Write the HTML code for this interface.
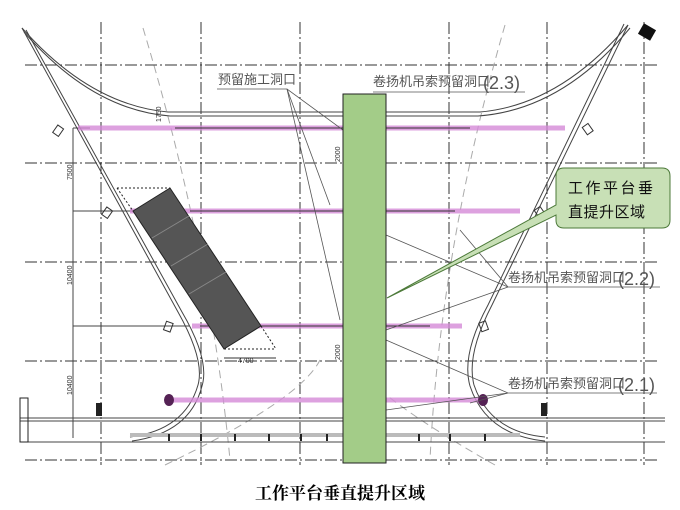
<!DOCTYPE html>
<html><head><meta charset="utf-8"><style>
html,body{margin:0;padding:0;background:#fff;width:680px;height:510px;overflow:hidden}
svg{display:block}
</style></head><body>
<svg width="680" height="510" viewBox="0 0 680 510" xmlns="http://www.w3.org/2000/svg" font-family="Liberation Sans, Noto Sans CJK SC, sans-serif">
<!-- grid dash-dot -->
<g stroke="#333" stroke-width="1" stroke-dasharray="12,3,2,3" fill="none">
<line x1="101" y1="22" x2="101" y2="465"/>
<line x1="201" y1="22" x2="201" y2="465"/>
<line x1="300" y1="22" x2="300" y2="465"/>
<line x1="449" y1="22" x2="449" y2="465"/>
<line x1="547" y1="22" x2="547" y2="465"/>
<line x1="644" y1="22" x2="644" y2="465"/>
<line x1="25" y1="65" x2="660" y2="65"/>
<line x1="25" y1="163" x2="660" y2="163"/>
<line x1="25" y1="262" x2="660" y2="262"/>
<line x1="25" y1="361" x2="660" y2="361"/>
<line x1="25" y1="460" x2="660" y2="460"/>
</g>
<!-- faint dashed curves -->
<g stroke="#aaa" stroke-width="1" stroke-dasharray="8,5" fill="none">
<path d="M143 28 Q210 250 230 460"/>
<path d="M505 25 Q440 250 430 460"/>
<path d="M165 465 Q300 400 320 360"/>
<path d="M495 465 Q380 400 350 360"/>
</g>
<!-- main outline -->
<g stroke="#444" stroke-width="1" fill="none">
<path d="M22 28 Q90 105 168 112 L480 112 Q560 105 628 25"/>
<path d="M24 32 Q92 110 170 116 L478 116 Q562 110 630 28"/>
<path d="M22 28 L178 312 Q205 360 198 385 Q185 430 130 437"/>
<path d="M26 30 L182 312 Q210 360 202 386 Q190 433 132 441"/>
<path d="M628 25 L492 305 Q466 355 474 385 Q490 432 545 437"/>
<path d="M624 24 L488 305 Q461 355 470 386 Q486 435 545 441"/>
<line x1="20" y1="418" x2="665" y2="418"/>
<line x1="20" y1="421" x2="665" y2="421"/>
<line x1="20" y1="442" x2="665" y2="442"/>
<line x1="73" y1="128" x2="73" y2="438"/>
<line x1="73" y1="128" x2="90" y2="128"/>
<line x1="73" y1="211" x2="135" y2="211"/>
<line x1="73" y1="326" x2="190" y2="326"/>
</g>
<rect x="130" y="433" width="390" height="4" fill="#bbb"/>
<rect x="20" y="398" width="8" height="44" fill="none" stroke="#222"/>
<rect x="96" y="403" width="6" height="13" fill="#222"/>
<rect x="541" y="403" width="6" height="13" fill="#222"/>
<g fill="#222"><rect x="168" y="434" width="2" height="7"/><rect x="200" y="434" width="2" height="7"/><rect x="234" y="434" width="2" height="7"/><rect x="268" y="434" width="2" height="7"/><rect x="300" y="434" width="2" height="7"/><rect x="326" y="434" width="2" height="7"/><rect x="418" y="434" width="2" height="7"/><rect x="449" y="434" width="2" height="7"/><rect x="484" y="434" width="2" height="7"/></g>
<!-- purple beams -->
<g stroke="#d58ad8" stroke-width="5" opacity="0.8">
<line x1="78" y1="128" x2="565" y2="128"/>
<line x1="130" y1="211" x2="520" y2="211"/>
<line x1="192" y1="326" x2="462" y2="326"/>
<line x1="168" y1="400" x2="482" y2="400"/>
</g>
<g stroke="#333" stroke-width="1">
<line x1="175" y1="128" x2="470" y2="128"/>
<line x1="190" y1="211" x2="455" y2="211"/>
<line x1="200" y1="326" x2="430" y2="326"/>
</g>
<g fill="none" stroke="#333">
<rect x="55" y="126" width="7" height="9" transform="rotate(35 58 130)"/>
<rect x="104" y="208" width="7" height="9" transform="rotate(35 107 212)"/>
<rect x="165" y="322" width="7" height="9" transform="rotate(20 168 326)"/>
<rect x="584" y="125" width="7" height="9" transform="rotate(-35 587 129)"/>
<rect x="536" y="208" width="7" height="9" transform="rotate(-35 539 212)"/>
<rect x="480" y="322" width="7" height="9" transform="rotate(-20 483 326)"/>
</g>
<ellipse cx="169" cy="400" rx="5" ry="6" fill="#552255"/>
<ellipse cx="483" cy="400" rx="5" ry="6" fill="#552255"/>
<rect x="640" y="26" width="14" height="12" fill="#111" transform="rotate(30 647 32)"/>
<!-- rotated dark panel -->
<polygon points="133,211 170,188 261,326 224,349" fill="#555" stroke="#222"/>
<g stroke="#888"><line x1="152" y1="238" x2="189" y2="216"/><line x1="171" y1="266" x2="208" y2="244"/><line x1="189" y1="294" x2="226" y2="272"/></g>
<g stroke="#222" stroke-dasharray="2,2" fill="none"><line x1="117" y1="188" x2="170" y2="188"/><line x1="117" y1="188" x2="133" y2="211"/><line x1="224" y1="349" x2="276" y2="349"/><line x1="261" y1="326" x2="276" y2="349"/></g>
<line x1="224" y1="358" x2="276" y2="358" stroke="#333"/>
<!-- leader lines -->
<g stroke="#555" stroke-width="0.8" fill="none">
<polyline points="217,89 287,89 343,130"/><line x1="287" y1="89" x2="330" y2="205"/><line x1="287" y1="89" x2="340" y2="320"/>
<line x1="373" y1="92" x2="525" y2="92"/>
<polyline points="660,287 508,287 386,235"/><line x1="508" y1="287" x2="386" y2="330"/><line x1="508" y1="287" x2="460" y2="230"/>
<polyline points="657,393 508,393 386,340"/><line x1="508" y1="393" x2="386" y2="410"/><line x1="508" y1="393" x2="470" y2="403"/>
</g>
<!-- green column -->
<rect x="343" y="94" width="43" height="369" fill="#a3cc88" stroke="#222" stroke-width="1"/>
<!-- callout -->
<path d="M564 168 H662 Q670 168 670 176 V220 Q670 228 662 228 H564 Q556 228 556 220 V215 L387 298 L556 205 V176 Q556 168 564 168 Z" fill="#c8e0b6" stroke="#4d7a3a" stroke-width="1"/>
<text x="568" y="193" font-size="15" letter-spacing="2.5" fill="#111">工作平台垂</text>
<text x="568" y="217" font-size="15" letter-spacing="0.5" fill="#111">直提升区域</text>
<!-- labels -->
<g fill="#555" font-size="13">
<text x="218" y="84">预留施工洞口</text>
<text x="373" y="86">卷扬机吊索预留洞口</text><text x="483" y="89" font-size="18">(2.3)</text>
<text x="508" y="282">卷扬机吊索预留洞口</text><text x="618" y="285" font-size="18">(2.2)</text>
<text x="508" y="388">卷扬机吊索预留洞口</text><text x="618" y="391" font-size="18">(2.1)</text>
</g>
<g fill="#333" font-size="7">
<text transform="translate(72,180) rotate(-90)">7500</text>
<text transform="translate(72,285) rotate(-90)">10400</text>
<text transform="translate(72,395) rotate(-90)">10400</text>
<text x="238" y="363">4700</text>
<text transform="translate(161,122) rotate(-90)">1750</text>
<text transform="translate(340,162) rotate(-90)">2000</text>
<text transform="translate(340,360) rotate(-90)">2000</text>
</g>
<text x="340" y="499" text-anchor="middle" font-size="17" font-weight="bold" font-family="Liberation Serif, Noto Serif CJK SC, serif" fill="#000">工作平台垂直提升区域</text>
</svg>
</body></html>
